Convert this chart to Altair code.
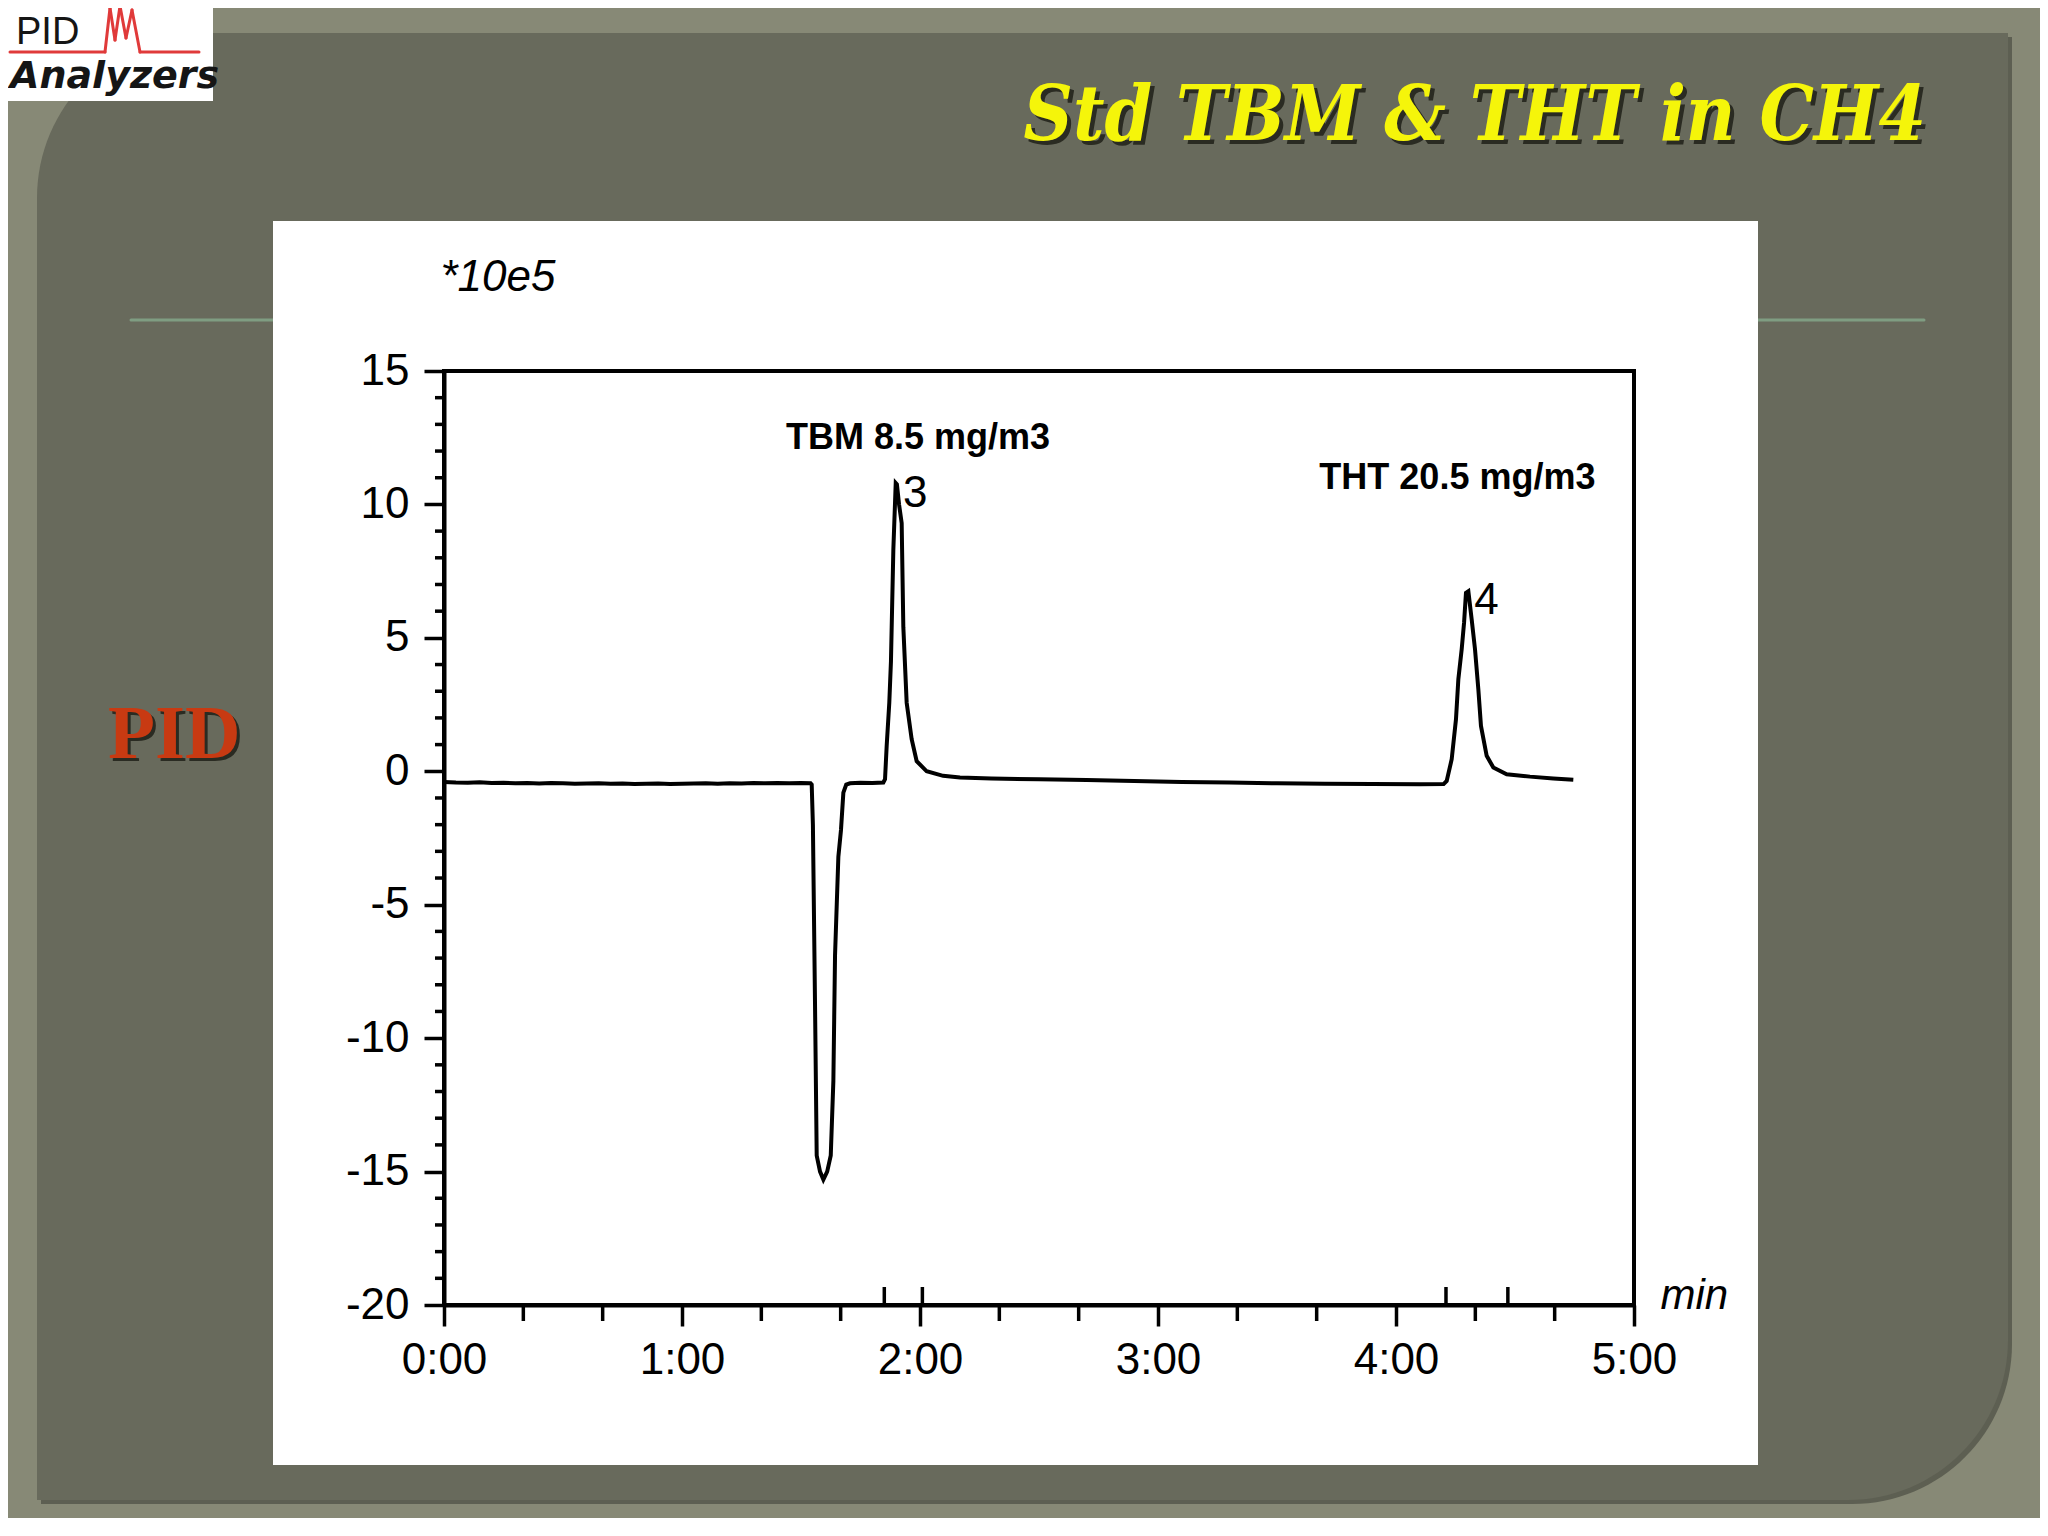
import altair as alt
import pandas as pd

# ---------------- data ----------------
times = [0.00, 0.05, 0.10, 0.15, 0.20, 0.25, 0.30, 0.35, 0.40, 0.45, 0.50, 0.55, 0.60, 0.65,
         0.70, 0.75, 0.80, 0.85, 0.90, 0.95, 1.00, 1.05, 1.10, 1.15, 1.20, 1.25, 1.30, 1.35,
         1.40, 1.45, 1.50, 1.540,
         1.545, 1.550, 1.559, 1.566, 1.580, 1.594, 1.610, 1.625, 1.636, 1.643, 1.657, 1.668,
         1.678, 1.690, 1.706, 1.750, 1.800, 1.846,
         1.853, 1.860, 1.871, 1.878, 1.888, 1.898, 1.903, 1.912, 1.923, 1.930, 1.944, 1.965,
         1.986, 2.028, 2.097, 2.168, 2.30, 2.50, 2.70, 2.90, 3.10, 3.30, 3.50, 3.70, 3.90,
         4.10, 4.20,
         4.213, 4.234, 4.252, 4.262, 4.276, 4.286, 4.294, 4.304, 4.318, 4.332, 4.346, 4.357,
         4.381, 4.409, 4.465, 4.563, 4.661, 4.745]
signal = [-0.40, -0.42, -0.43, -0.41, -0.44, -0.43, -0.45, -0.44, -0.46, -0.44, -0.45, -0.47, -0.46, -0.45,
          -0.47, -0.46, -0.48, -0.47, -0.46, -0.48, -0.47, -0.46, -0.45, -0.47, -0.45, -0.46, -0.44, -0.45,
          -0.44, -0.45, -0.44, -0.45,
          -0.50, -2.0, -8.8, -14.4, -15.0, -15.3, -15.0, -14.4, -11.6, -6.9, -3.2, -2.2,
          -0.8, -0.5, -0.45, -0.43, -0.44, -0.42,
          -0.30, 0.95, 2.57, 4.13, 8.3, 10.8, 10.75, 10.0, 9.3, 5.4, 2.57, 1.2,
          0.38, 0.0, -0.17, -0.23, -0.27, -0.30, -0.33, -0.36, -0.40, -0.42, -0.45, -0.47, -0.48,
          -0.49, -0.48,
          -0.36, 0.45, 1.95, 3.45, 4.57, 5.57, 6.69, 6.75, 5.69, 4.57, 3.07, 1.7,
          0.58, 0.14, -0.11, -0.20, -0.27, -0.32]

peak_numbers = ["3", "4"]
peak_times = [1.903, 4.304]
peak_heights = [10.75, 6.75]

event_times = [1.85, 2.01, 4.21, 4.47]

annotation_texts = ["TBM 8.5 mg/m3", "THT 20.5 mg/m3"]
annotation_times = [1.992, 4.258]
annotation_levels = [12.48, 11.0]

x_major = [0, 1, 2, 3, 4, 5]
x_minor = [k / 3 for k in range(16) if k % 3 != 0]
y_major = [-20, -15, -10, -5, 0, 5, 10, 15]
y_minor = [v for v in range(-20, 16) if v % 5 != 0]

title_text = "Std TBM & THT in CH4"
side_label = "PID"

# ---------------- layout ----------------
W, H = 1190, 934
OX, OY = 444, 371  # page position of plot origin


def px(x):
    return x - OX


def py(y):
    return y - OY


one = pd.DataFrame({"a": [0]})
FONT = "Liberation Sans"

xscale = alt.Scale(domain=[0, 5], nice=False, zero=False)
yscale = alt.Scale(domain=[-20, 15], nice=False, zero=False)

common_axis = dict(zindex=2, domainColor="black", domainWidth=4, tickColor="black", tickWidth=3.5,
                   labelColor="black", labelFont=FONT, labelFontSize=44, grid=False,
                   labelOverlap=False, labelBound=False, labelFlush=False,
                   titleFontStyle="italic", titleFontWeight="normal", titleFont=FONT,
                   titleColor="black", titleAngle=0, titleAlign="left", titleBaseline="middle")

xaxis = alt.Axis(values=x_major, tickSize=21, labelPadding=12,
                 labelExpr="round(datum.value) + ':00'",
                 title="min", titleX=1216, titleY=-10, titleFontSize=42, **common_axis)
yaxis = alt.Axis(values=y_major, tickSize=20, labelPadding=15,
                 labelExpr="'' + datum.value",
                 title="*10e5", titleX=-4, titleY=-94, titleFontSize=44, **common_axis)


def rect(x1, x2, y1, y2, color, **kw):
    return alt.Chart(one).mark_rect(color=color, **kw).encode(
        x=alt.value(px(x1)), x2=alt.value(px(x2)),
        y=alt.value(py(y1)), y2=alt.value(py(y2)))


def seg(x1, y1, x2, y2, color, width):
    return alt.Chart(one).mark_rule(color=color, strokeWidth=width, strokeCap="round").encode(
        x=alt.value(px(x1)), x2=alt.value(px(x2)),
        y=alt.value(py(y1)), y2=alt.value(py(y2)))


def text(x, y, s, **kw):
    return alt.Chart(one).mark_text(**kw).encode(
        x=alt.value(px(x)), y=alt.value(py(y)), text=alt.value(s))


TITLE_FONT = "DejaVu Serif Condensed, DejaVu Serif"

layers = []
# slide panel
layers.append(rect(41, 2012, 37, 1504, "#5d5f52", cornerRadiusTopLeft=165, cornerRadiusBottomRight=160))
layers.append(rect(37, 2008, 33, 1500, "#686a5c", cornerRadiusTopLeft=165, cornerRadiusBottomRight=160))
# horizontal rule line
layers.append(seg(131, 320, 1924, 320, "#7f9d82", 3))
# white chart box
layers.append(rect(273, 1758, 221, 1465, "white"))
# title with shadow
layers.append(text(1930, 144, title_text, font=TITLE_FONT, fontSize=76, fontWeight="bold",
                   fontStyle="italic", align="right", baseline="alphabetic", color="#2a2b22"))
layers.append(text(1926, 140, title_text, font=TITLE_FONT, fontSize=76, fontWeight="bold",
                   fontStyle="italic", align="right", baseline="alphabetic", color="#f5f50a"))
# side label with shadow
layers.append(text(111, 761, side_label, font="Liberation Serif", fontSize=77, fontWeight="bold",
                   align="left", baseline="alphabetic", color="#2a2b22"))
layers.append(text(108, 758, side_label, font="Liberation Serif", fontSize=77, fontWeight="bold",
                   align="left", baseline="alphabetic", color="#c83a12"))
# logo
layers.append(rect(0, 213, 0, 101, "white"))
layers.append(seg(10, 52, 105, 52, "#e03a3a", 3))
logo_pts = [(105, 52), (110, 8), (115, 40), (120, 6), (126, 38), (132, 10), (140, 52)]
for (a, b), (c, d) in zip(logo_pts[:-1], logo_pts[1:]):
    layers.append(seg(a, b, c, d, "#e03a3a", 3))
layers.append(seg(140, 52, 199, 52, "#e03a3a", 3))
layers.append(text(16, 44, "PID", font=FONT, fontSize=38, align="left", baseline="alphabetic",
                   color="#151515"))
layers.append(text(10, 88, "Analyzers", font="DejaVu Sans", fontSize=38, fontWeight="bold",
                   fontStyle="italic", align="left", baseline="alphabetic", color="#151515"))

# plot frame
frame = alt.Chart(one).mark_rect(fillOpacity=0, stroke="black", strokeWidth=4).encode(
    x=alt.value(0), x2=alt.value(W), y=alt.value(0), y2=alt.value(H))
layers.append(frame)

# minor ticks
ymin_df = pd.DataFrame({"v": y_minor})
layers.append(alt.Chart(ymin_df).mark_rule(color="black", strokeWidth=3.5).encode(
    y=alt.Y("v:Q", scale=yscale, axis=yaxis), x=alt.value(0), x2=alt.value(-9)))
xmin_df = pd.DataFrame({"t": x_minor})
layers.append(alt.Chart(xmin_df).mark_rule(color="black", strokeWidth=3.5).encode(
    x=alt.X("t:Q", scale=xscale, axis=xaxis), y=alt.value(H), y2=alt.value(H + 16)))
# integration event markers
ev_df = pd.DataFrame({"t": event_times})
layers.append(alt.Chart(ev_df).mark_rule(color="black", strokeWidth=3.5).encode(
    x=alt.X("t:Q", scale=xscale, axis=xaxis), y=alt.value(H), y2=alt.value(H - 18)))

# chromatogram
df = pd.DataFrame({"t": times, "v": signal})
layers.append(alt.Chart(df).mark_line(color="black", strokeWidth=4, strokeJoin="miter").encode(
    x=alt.X("t:Q", scale=xscale, axis=xaxis),
    y=alt.Y("v:Q", scale=yscale, axis=yaxis)))

pk_df = pd.DataFrame({"t": peak_times, "v": peak_heights, "lab": peak_numbers})
layers.append(alt.Chart(pk_df).mark_text(font=FONT, fontSize=44, align="left", baseline="middle",
                                         dx=6, dy=10, color="black").encode(
    x=alt.X("t:Q", scale=xscale, axis=xaxis),
    y=alt.Y("v:Q", scale=yscale, axis=yaxis), text="lab:N"))

an_df = pd.DataFrame({"t": annotation_times, "v": annotation_levels, "lab": annotation_texts})
layers.append(alt.Chart(an_df).mark_text(font=FONT, fontSize=36, fontWeight="bold", align="center",
                                         baseline="middle", color="black").encode(
    x=alt.X("t:Q", scale=xscale, axis=xaxis),
    y=alt.Y("v:Q", scale=yscale, axis=yaxis), text="lab:N"))

chart = alt.layer(*layers).properties(
    width=W, height=H,
    autosize=alt.AutoSizeParams(type="none"),
    padding={"left": 436, "top": 363, "right": 406, "bottom": 213},
    background="#878976",
).configure_view(stroke=None)

chart.save("out.html", embed_options={"renderer": "svg", "actions": False})
